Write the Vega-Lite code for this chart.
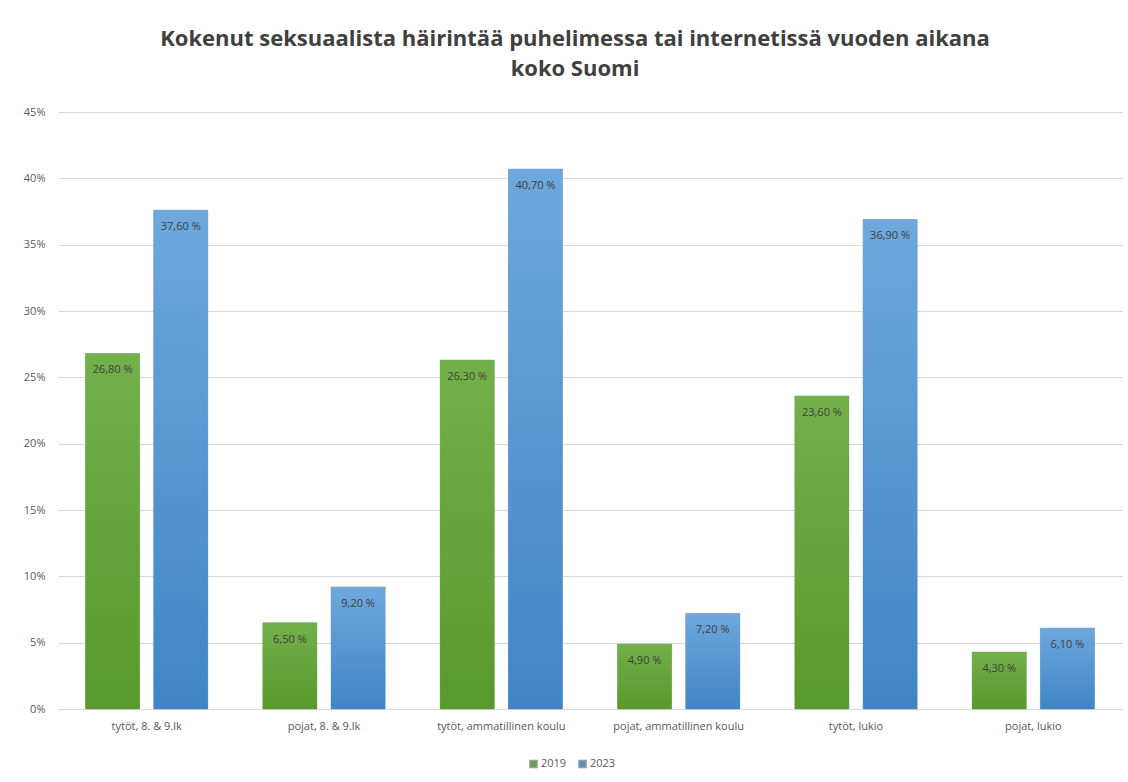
{
  "$schema": "https://vega.github.io/schema/vega-lite/v6.json",
  "autosize": "none",
  "width": 1064,
  "height": 597,
  "padding": {"left": 58, "right": 6, "top": 112, "bottom": 73},
  "background": "white",
  "config": {
    "view": {"stroke": null},
    "font": "Open Sans",
    "locale": {"number": {"decimal": ",", "thousands": " ", "grouping": [3], "currency": ["", " %"]}}
  },
  "title": {
    "text": ["Kokenut seksuaalista häirintää puhelimessa tai internetissä vuoden aikana", "koko Suomi"],
    "fontSize": 22,
    "fontWeight": "bold",
    "color": "#404040",
    "lineHeight": 30,
    "offset": 25,
    "dx": -15,
    "anchor": "middle"
  },
  "data": {
    "values": [
      {"ryhma": "tytöt, 8. & 9.lk", "vuosi": "2019", "osuus": 26.8},
      {"ryhma": "tytöt, 8. & 9.lk", "vuosi": "2023", "osuus": 37.6},
      {"ryhma": "pojat, 8. & 9.lk", "vuosi": "2019", "osuus": 6.5},
      {"ryhma": "pojat, 8. & 9.lk", "vuosi": "2023", "osuus": 9.2},
      {"ryhma": "tytöt, ammatillinen koulu", "vuosi": "2019", "osuus": 26.3},
      {"ryhma": "tytöt, ammatillinen koulu", "vuosi": "2023", "osuus": 40.7},
      {"ryhma": "pojat, ammatillinen koulu", "vuosi": "2019", "osuus": 4.9},
      {"ryhma": "pojat, ammatillinen koulu", "vuosi": "2023", "osuus": 7.2},
      {"ryhma": "tytöt, lukio", "vuosi": "2019", "osuus": 23.6},
      {"ryhma": "tytöt, lukio", "vuosi": "2023", "osuus": 36.9},
      {"ryhma": "pojat, lukio", "vuosi": "2019", "osuus": 4.3},
      {"ryhma": "pojat, lukio", "vuosi": "2023", "osuus": 6.1}
    ]
  },
  "encoding": {
    "x": {
      "field": "ryhma", "type": "nominal", "sort": null,
      "scale": {"paddingInner": 0.31, "paddingOuter": 0.155},
      "axis": {"title": null, "labelAngle": 0, "labelFontSize": 11, "labelColor": "#595959", "ticks": false, "domainColor": "#d9d9d9", "labelPadding": 11}
    },
    "xOffset": {"field": "vuosi", "type": "nominal", "scale": {"domain": ["2019", "2023"], "paddingInner": 0.206, "paddingOuter": 0}},
    "y": {
      "field": "osuus", "type": "quantitative",
      "scale": {"domain": [0, 45], "nice": false},
      "axis": {"title": null, "values": [0, 5, 10, 15, 20, 25, 30, 35, 40, 45], "labelExpr": "datum.value + '%'", "domain": false, "ticks": false, "gridColor": "#d9d9d9", "labelColor": "#595959", "labelFontSize": 11, "labelPadding": 13}
    }
  },
  "layer": [
    {
      "mark": {"type": "bar", "stroke": "#9a9a9a", "strokeWidth": 1, "strokeOpacity": 0.5},
      "encoding": {
        "color": {
          "field": "vuosi", "type": "nominal",
          "scale": {"domain": ["2019", "2023"], "range": ["#64a23c", "#4f92d2"]},
          "legend": {"title": null, "orient": "none", "legendX": 470, "legendY": 646, "direction": "horizontal", "symbolType": "square", "symbolSize": 50, "labelFontSize": 11, "labelColor": "#595959", "columnPadding": 8, "labelOffset": 2}
        }
      }
    },
    {
      "transform": [{"filter": "datum.vuosi === '2019'"}],
      "mark": {"type": "bar", "color": {"gradient": "linear", "x1": 0, "y1": 0, "x2": 0, "y2": 1, "stops": [{"offset": 0, "color": "#72b04a"}, {"offset": 1, "color": "#58992c"}]}}
    },
    {
      "transform": [{"filter": "datum.vuosi === '2023'"}],
      "mark": {"type": "bar", "color": {"gradient": "linear", "x1": 0, "y1": 0, "x2": 0, "y2": 1, "stops": [{"offset": 0, "color": "#6ea8dd"}, {"offset": 1, "color": "#3f85c6"}]}}
    },
    {
      "mark": {"type": "text", "baseline": "middle", "dy": 17, "fontSize": 11, "color": "#404040"},
      "encoding": {
        "text": {"field": "osuus", "type": "quantitative", "format": "$.2f"}
      }
    }
  ]
}
